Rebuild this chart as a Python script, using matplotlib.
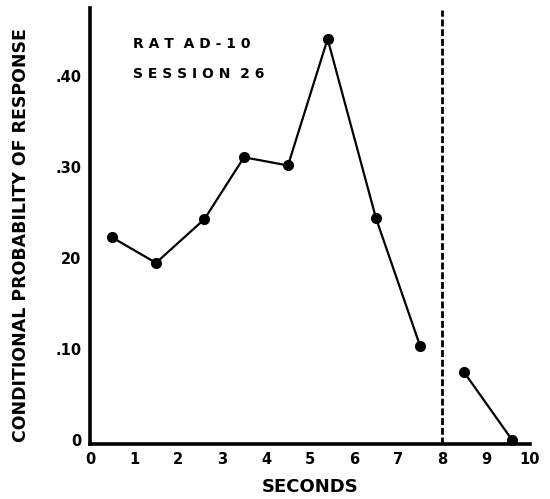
import matplotlib
matplotlib.use("Agg")
import matplotlib.pyplot as plt

# Data
seg1_x = [0.5, 1.5, 2.6, 3.5, 4.5, 5.4, 6.5, 7.5]
seg1_y = [0.223, 0.195, 0.243, 0.311, 0.302, 0.441, 0.244, 0.104]
seg2_x = [8.5, 9.6]
seg2_y = [0.075, 0.0]
cutoff = 8
xticks = list(range(0, 11))
xtick_labels = [str(v) for v in xticks]
yticks = [0.0, 0.10, 0.20, 0.30, 0.40]
ytick_labels = ["0", ".10", "20", ".30", ".40"]

fig = plt.figure(figsize=(5.5, 4.99), dpi=100)
ax = fig.add_axes([90/550, 1-444/499, 440/550, 436/499])

ax.plot(seg1_x, seg1_y, color="black", lw=1.6, marker="o", ms=7, clip_on=False)
ax.plot(seg2_x, seg2_y, color="black", lw=1.6, marker="o", ms=7, clip_on=False)
ax.axvline(cutoff, ymin=0, ymax=0.995, color="black", lw=2, ls=(0, (2.5, 1)))

ax.set_xlim(0, 10)
ax.set_ylim(-0.004, 0.475)
for s in ["top", "right"]:
    ax.spines[s].set_visible(False)
for s in ["left", "bottom"]:
    ax.spines[s].set_linewidth(2.6)

ax.set_xticks(xticks)
ax.set_xticklabels(xtick_labels, fontweight="bold", fontsize=10.5)
ax.set_yticks(yticks)
ax.set_yticklabels(ytick_labels, fontweight="bold", fontsize=10.5)
ax.tick_params(length=0, pad=6)

ax.set_xlabel("SECONDS", fontweight="bold", fontsize=13, labelpad=8)
ax.set_ylabel("CONDITIONAL PROBABILITY OF RESPONSE", fontweight="bold", fontsize=12.5)
ax.yaxis.set_label_coords(-0.137, 0.479)

ax.text(0.98, 0.435, "R A T  A D - 1 0", fontweight="bold", fontsize=10, va="center")
ax.text(0.98, 0.402, "S E S S I O N  2 6", fontweight="bold", fontsize=10, va="center")

fig.savefig("out.png", dpi=100)
